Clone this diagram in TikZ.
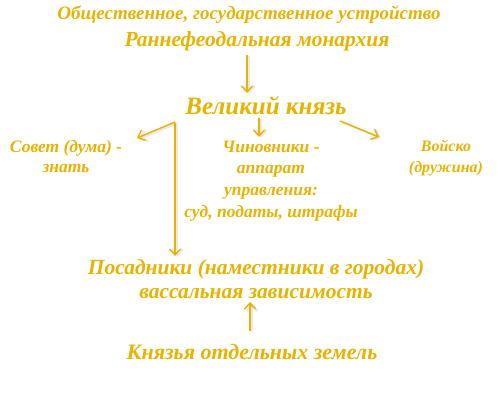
\documentclass[tikz,border=0pt]{standalone}
\usepackage{fontspec}
\setmainfont{Liberation Serif}
\usetikzlibrary{arrows.meta}
\definecolor{gold}{RGB}{232,178,0}
\begin{document}
\begin{tikzpicture}[x=1pt,y=1pt,
  txt/.style={text=gold,align=center,inner sep=0pt},
  fs/.style 2 args={font=\bfseries\itshape\fontsize{#1}{#2}\selectfont},
  conn/.style={draw=gold,line width=1.4pt,-{Straight Barb[length=6pt,width=11pt]}},
  shad/.style={draw=black!25,line width=2.5pt,opacity=0.35,-{Straight Barb[length=6pt,width=11pt]},transform canvas={shift={(2pt,-1pt)}}}]
\useasboundingbox (0,0) rectangle (500,-400);
\node[txt,fs={19}{22}] (t1) at (249,-15) {Общественное, государственное устройство};
\node[txt,fs={21.5}{24}] (t2) at (257,-41) {Раннефеодальная монархия};
\node[txt,fs={25}{28}] (vk) at (266,-106) {Великий князь};
\node[txt,fs={17.5}{20}] (sov) at (66,-157) {Совет (дума) -\\знать};
\node[txt,fs={17.5}{21.7}] (chin) at (271,-181) {Чиновники -\\аппарат\\управления:\\суд, податы, штрафы};
\node[txt,fs={16}{21}] (voy) at (446,-158) {Войско\\(дружина)};
\node[txt,fs={21.5}{24}] (pos) at (256,-279) {Посадники (наместники в городах)\\вассальная зависимость};
\node[txt,fs={22}{24}] (kn) at (252,-352) {Князья отдельных земель};
\coordinate (a0) at (247,-55);
\coordinate (a1) at (247,-93);
\coordinate (l0) at (175,-122);
\coordinate (l1) at (137,-138);
\coordinate (m0) at (259,-118);
\coordinate (m1) at (259,-137);
\coordinate (r0) at (340,-121);
\coordinate (r1) at (379,-137);
\coordinate (v0) at (175,-123);
\coordinate (v1) at (175,-256);
\coordinate (u0) at (250,-331);
\coordinate (u1) at (250,-302);
\foreach \p/\q in {a0/a1,l0/l1,m0/m1,r0/r1,v0/v1,u0/u1}{
  \draw[shad] (\p) -- (\q);
  \draw[conn] (\p) -- (\q);
}
\end{tikzpicture}
\end{document}
